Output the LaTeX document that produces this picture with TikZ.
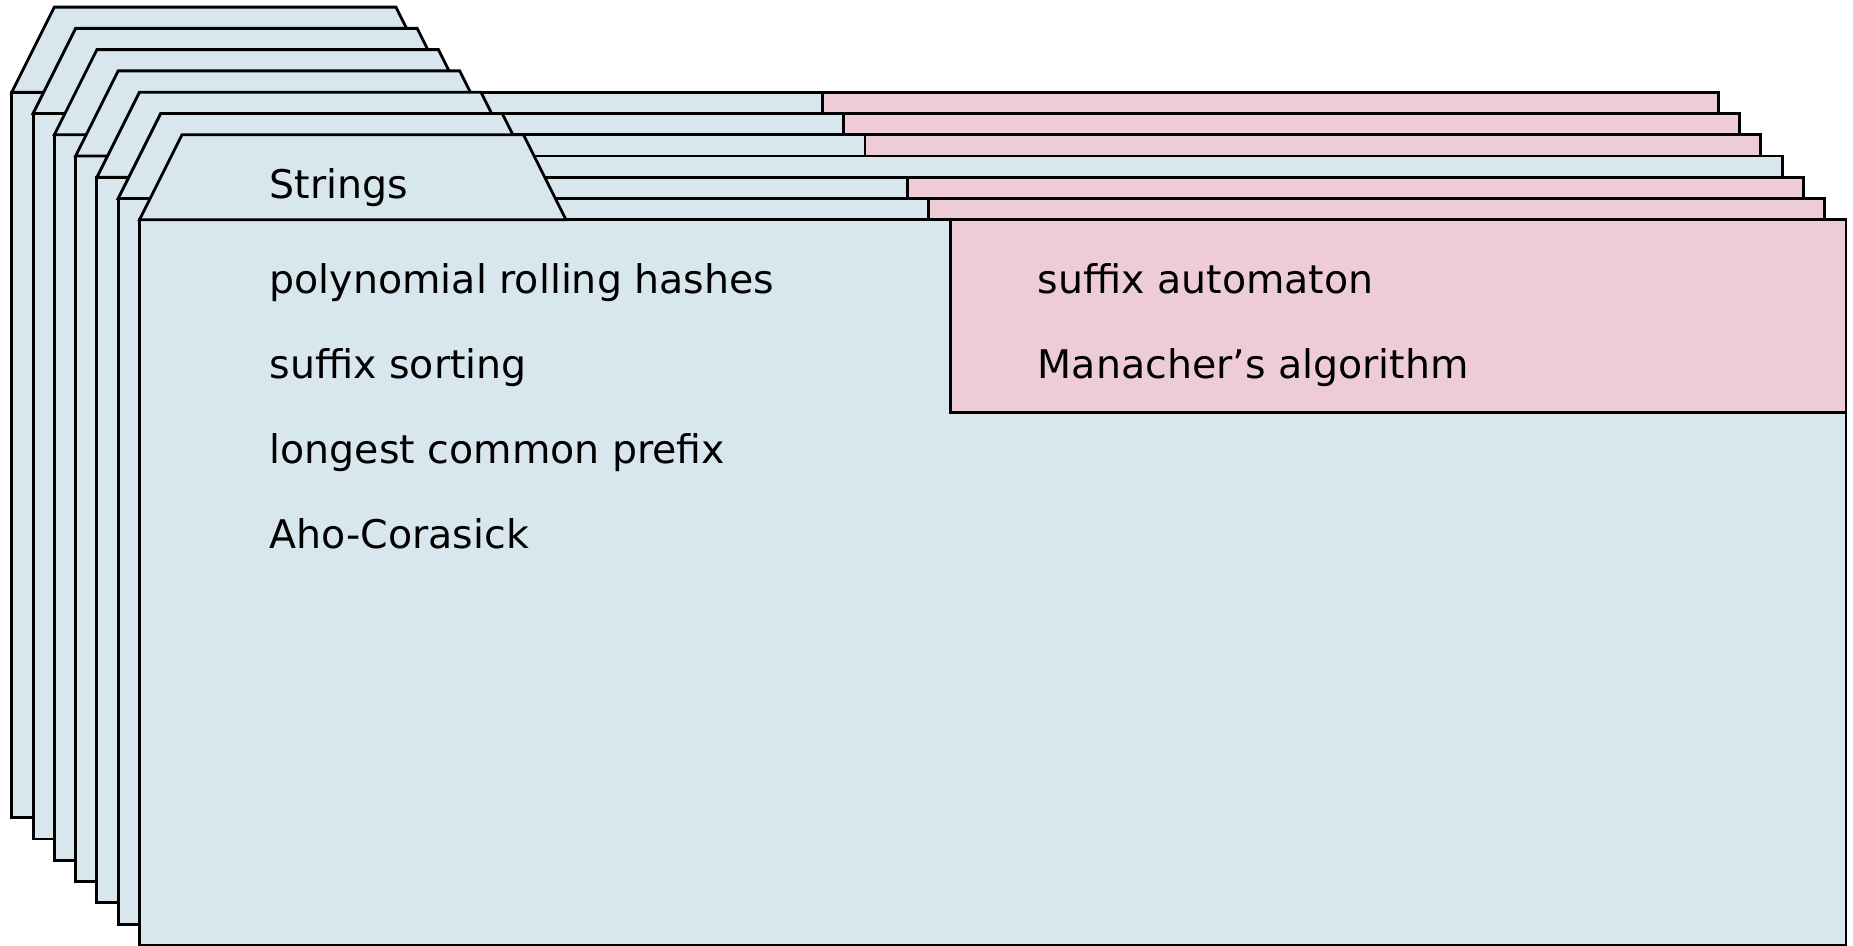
\documentclass[tikz,border=0pt]{standalone}
\usepackage{fontspec}
\setmainfont{DejaVu Sans}
\usepackage{xcolor}
\usepackage{tikz}
\definecolor{cardblue}{HTML}{D8E6EE}
\definecolor{cardpink}{HTML}{EECCD6}

\begin{document}
\begin{tikzpicture}[x=0.5pt,y=-0.5pt,line width=1.2pt,line join=miter,
    card/.style={draw=black,fill=cardblue},
    pinkpart/.style={draw=black,fill=cardpink},
    topic/.style={anchor=base west,inner sep=0pt,font=\fontsize{16.7}{20}\selectfont}]
    \useasboundingbox (0,0) rectangle (1568,800);
    % Les fiches, de l'arrière vers l'avant
    \foreach \k in {0,...,6} {
        \pgfmathsetmacro{\o}{18*\k}
        \draw[card] (10+\o,78+\o) rectangle (1454+\o,692+\o);
        \draw[card] (10+\o,78+\o) -- (46+\o,6+\o) -- (335+\o,6+\o) -- (371+\o,78+\o) -- cycle;
        \ifnum\k=3 \else
            \draw[pinkpart] (696+\o,78+\o) rectangle (1454+\o,241+\o);
        \fi
    }

    % Textes de la fiche de devant
    \node[topic] (strings) at (227,168) {Strings};
    \node[topic] (hashes) at (227,248) {polynomial rolling hashes};
    \node[topic] (sorting) at (227,320) {suffix sorting};
    \node[topic] (lcp) at (227,392) {longest common prefix};
    \node[topic] (aho) at (227,464) {Aho-Corasick};
    \node[topic] (automaton) at (877,248) {suffix automaton};
    \node[topic] (manacher) at (877,320) {Manacher’s algorithm};
\end{tikzpicture}
\end{document}
